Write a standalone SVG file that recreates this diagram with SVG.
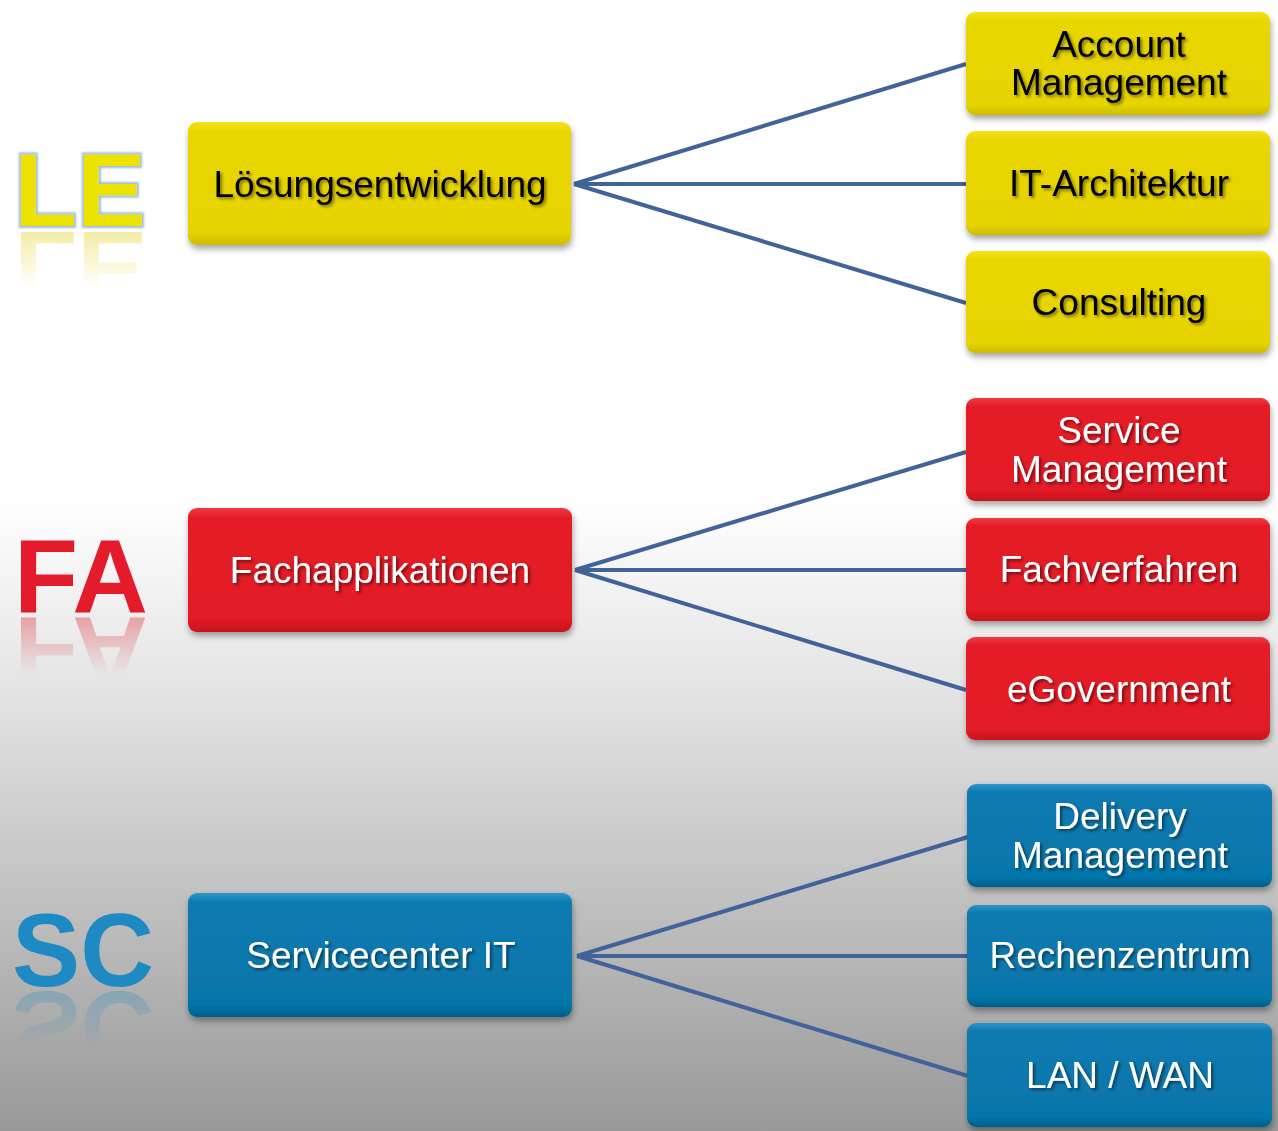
<svg xmlns="http://www.w3.org/2000/svg" width="1278" height="1131" viewBox="0 0 1278 1131">
<defs>
<style>
.lbl{font-family:"Liberation Sans",Arial,sans-serif;font-size:37px;text-anchor:middle}
.dark{fill:#000;filter:url(#tsd)}
.light{fill:#fff;filter:url(#tsl)}
.big{font-family:"Liberation Sans",Arial,sans-serif;font-size:104px;font-weight:bold}
.conn{stroke:#41639A;stroke-width:4;fill:none}
.box{filter:url(#bsh)}
</style>
<linearGradient id="bg" x1="0" y1="0" x2="0" y2="1131" gradientUnits="userSpaceOnUse">
<stop offset="0" stop-color="#ffffff"/>
<stop offset="0.44" stop-color="#ffffff"/>
<stop offset="0.62" stop-color="#e2e2e2"/>
<stop offset="1" stop-color="#999999"/>
</linearGradient>
<linearGradient id="gy" x1="0" y1="0" x2="0" y2="1">
<stop offset="0" stop-color="#f2e21a"/>
<stop offset="0.08" stop-color="#e9d600"/>
<stop offset="0.9" stop-color="#e6d300"/>
<stop offset="1" stop-color="#cdbb00"/>
</linearGradient>
<linearGradient id="gr" x1="0" y1="0" x2="0" y2="1">
<stop offset="0" stop-color="#f03a44"/>
<stop offset="0.08" stop-color="#e51c27"/>
<stop offset="0.9" stop-color="#e21a25"/>
<stop offset="1" stop-color="#c5131d"/>
</linearGradient>
<linearGradient id="gb" x1="0" y1="0" x2="0" y2="1">
<stop offset="0" stop-color="#2e95c8"/>
<stop offset="0.08" stop-color="#0a7ab0"/>
<stop offset="0.9" stop-color="#0676aa"/>
<stop offset="1" stop-color="#055f8a"/>
</linearGradient>
<filter id="bsh" x="-10%" y="-20%" width="120%" height="150%">
<feGaussianBlur in="SourceAlpha" stdDeviation="3"/>
<feOffset dx="1" dy="4" result="b"/>
<feFlood flood-color="#000" flood-opacity="0.35"/>
<feComposite in2="b" operator="in"/>
<feMerge><feMergeNode/><feMergeNode in="SourceGraphic"/></feMerge>
</filter>
<filter id="tsd" x="-10%" y="-30%" width="120%" height="160%">
<feGaussianBlur in="SourceAlpha" stdDeviation="1.5"/>
<feOffset dx="2" dy="2" result="b"/>
<feFlood flood-color="#000" flood-opacity="0.45"/>
<feComposite in2="b" operator="in"/>
<feMerge><feMergeNode/><feMergeNode in="SourceGraphic"/></feMerge>
</filter>
<filter id="tsl" x="-10%" y="-30%" width="120%" height="160%">
<feGaussianBlur in="SourceAlpha" stdDeviation="1.5"/>
<feOffset dx="2" dy="2" result="b"/>
<feFlood flood-color="#000" flood-opacity="0.5"/>
<feComposite in2="b" operator="in"/>
<feMerge><feMergeNode/><feMergeNode in="SourceGraphic"/></feMerge>
</filter>
<filter id="glow" x="-10%" y="-10%" width="120%" height="120%">
<feMorphology in="SourceAlpha" operator="dilate" radius="1.5" result="d"/>
<feGaussianBlur in="d" stdDeviation="1" result="g"/>
<feFlood flood-color="#8fb4d8" flood-opacity="0.9"/>
<feComposite in2="g" operator="in"/>
<feMerge><feMergeNode/><feMergeNode in="SourceGraphic"/></feMerge>
</filter>
<linearGradient id="fade" x1="0" y1="0" x2="0" y2="1">
<stop offset="0" stop-color="#fff" stop-opacity="0.5"/>
<stop offset="1" stop-color="#fff" stop-opacity="0"/>
</linearGradient>
<mask id="mLE" maskUnits="userSpaceOnUse" x="0" y="230" width="180" height="70"><rect x="0" y="230" width="180" height="58" fill="url(#fade)"/></mask>
<mask id="mFA" maskUnits="userSpaceOnUse" x="0" y="616" width="180" height="70"><rect x="0" y="616" width="180" height="58" fill="url(#fade)"/></mask>
<mask id="mSC" maskUnits="userSpaceOnUse" x="0" y="991" width="180" height="70"><rect x="0" y="991" width="180" height="58" fill="url(#fade)"/></mask>
</defs>
<rect x="0" y="0" width="1278" height="1131" fill="url(#bg)"/>

<g id="letters">
<g id="le-mark">
<text class="big" x="14" y="226" fill="#ece400" filter="url(#glow)" textLength="132" lengthAdjust="spacingAndGlyphs">LE</text>
<g mask="url(#mLE)"><text class="big" x="14" y="226" fill="#e8d84a" transform="translate(0,458) scale(1,-1)" textLength="132" lengthAdjust="spacingAndGlyphs">LE</text></g>
</g>
<g id="fa-mark">
<text class="big" x="14" y="612" fill="#e31b2a" textLength="134" lengthAdjust="spacingAndGlyphs">FA</text>
<g mask="url(#mFA)"><text class="big" x="14" y="612" fill="#e0505a" transform="translate(0,1230) scale(1,-1)" textLength="134" lengthAdjust="spacingAndGlyphs">FA</text></g>
</g>
<g id="sc-mark">
<text class="big" x="12" y="986" fill="#1d8ac4" textLength="142" lengthAdjust="spacingAndGlyphs">SC</text>
<g mask="url(#mSC)"><text class="big" x="12" y="986" fill="#5a9ab8" transform="translate(0,1978) scale(1,-1)" textLength="142" lengthAdjust="spacingAndGlyphs">SC</text></g>
</g>
</g>

<g id="connectors">
<path class="conn" d="M574 184 L966 64 M574 184 L966 184 M574 184 L966 303"/>
<path class="conn" d="M575 570 L966 452 M575 570 L966 570 M575 570 L966 690"/>
<path class="conn" d="M577 956 L968 837 M577 956 L968 956 M577 956 L968 1076"/>
</g>

<g id="n-le">
<rect class="box" x="188" y="122" width="383" height="123" rx="9" fill="url(#gy)"/>
<text class="lbl dark" x="380" y="197">Lösungsentwicklung</text>
</g>
<g id="n-account">
<rect class="box" x="966" y="12" width="304" height="103" rx="9" fill="url(#gy)"/>
<text class="lbl dark" x="1119" y="57">Account</text>
<text class="lbl dark" x="1119" y="95">Management</text>
</g>
<g id="n-itarch">
<rect class="box" x="966" y="131" width="304" height="104" rx="9" fill="url(#gy)"/>
<text class="lbl dark" x="1119" y="196">IT-Architektur</text>
</g>
<g id="n-consulting">
<rect class="box" x="966" y="251" width="304" height="102" rx="9" fill="url(#gy)"/>
<text class="lbl dark" x="1119" y="315">Consulting</text>
</g>

<g id="n-fa">
<rect class="box" x="188" y="508" width="384" height="124" rx="9" fill="url(#gr)"/>
<text class="lbl light" x="380" y="583">Fachapplikationen</text>
</g>
<g id="n-service">
<rect class="box" x="966" y="398" width="304" height="103" rx="9" fill="url(#gr)"/>
<text class="lbl light" x="1119" y="443">Service</text>
<text class="lbl light" x="1119" y="482">Management</text>
</g>
<g id="n-fachverfahren">
<rect class="box" x="966" y="518" width="304" height="103" rx="9" fill="url(#gr)"/>
<text class="lbl light" x="1119" y="582">Fachverfahren</text>
</g>
<g id="n-egov">
<rect class="box" x="966" y="637" width="304" height="103" rx="9" fill="url(#gr)"/>
<text class="lbl light" x="1119" y="702">eGovernment</text>
</g>

<g id="n-sc">
<rect class="box" x="188" y="893" width="384" height="124" rx="9" fill="url(#gb)"/>
<text class="lbl light" x="381" y="968">Servicecenter IT</text>
</g>
<g id="n-delivery">
<rect class="box" x="967" y="784" width="305" height="103" rx="9" fill="url(#gb)"/>
<text class="lbl light" x="1120" y="829">Delivery</text>
<text class="lbl light" x="1120" y="868">Management</text>
</g>
<g id="n-rz">
<rect class="box" x="967" y="905" width="305" height="102" rx="9" fill="url(#gb)"/>
<text class="lbl light" x="1120" y="968">Rechenzentrum</text>
</g>
<g id="n-lan">
<rect class="box" x="967" y="1023" width="305" height="104" rx="9" fill="url(#gb)"/>
<text class="lbl light" x="1120" y="1088">LAN / WAN</text>
</g>
</svg>
